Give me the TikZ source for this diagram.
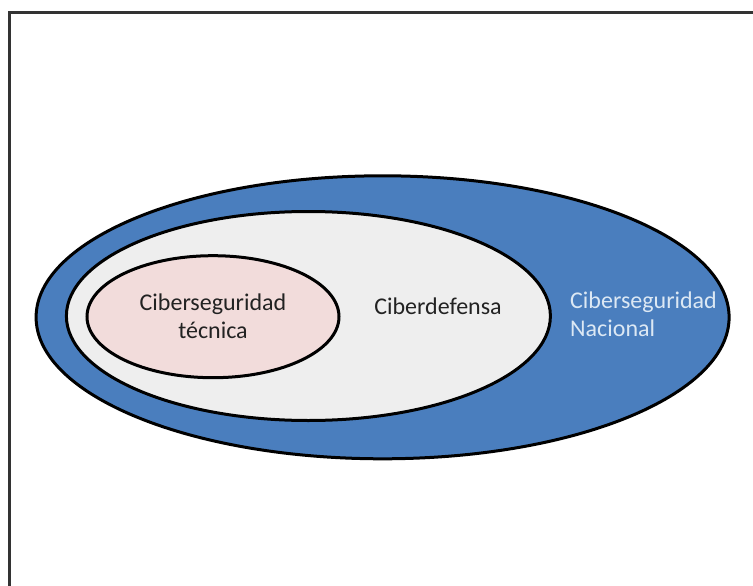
\documentclass[tikz,border=0pt]{standalone}
\usepackage{fontspec}
\setmainfont{Carlito}
\usetikzlibrary{shapes.geometric}
\definecolor{natblue}{HTML}{4A7EBE}
\definecolor{defgray}{HTML}{EEEEEE}
\definecolor{tecpink}{HTML}{F2DCDB}
\definecolor{lighttext}{HTML}{DCE8F4}
\definecolor{darktext}{HTML}{222222}
\definecolor{framegray}{HTML}{333333}
\tikzset{
  ring/.style={ellipse, draw=black, line width=3pt, inner sep=0pt},
  label/.style={font=\fontsize{24}{28}\selectfont, inner sep=0pt},
}
\begin{document}
\begin{tikzpicture}[x=1pt,y=-1pt]
\useasboundingbox (0,0) rectangle (753,586);
\fill[white] (0,0) rectangle (753,586);
% frame along the top and left edges
\draw[framegray, line width=3pt] (9.5,586) |- (753,12.5);
% nested ellipses
\node[ring, fill=natblue, minimum width=693pt, minimum height=283pt] (nac) at (382.6,317.3) {};
\node[ring, fill=defgray, minimum width=484pt, minimum height=209pt] (def) at (308.4,316) {};
\node[ring, fill=tecpink, minimum width=252pt, minimum height=122pt] (tec) at (213,316.7) {};
% labels
\node[label, text=darktext, align=center] (ltec) at (213,316) {Ciberseguridad\\técnica};
\node[label, text=darktext] (ldef) at (438,306) {Ciberdefensa};
\node[label, text=lighttext, align=left, anchor=west] (lnac) at (570,314) {Ciberseguridad\\Nacional};
\end{tikzpicture}
\end{document}
